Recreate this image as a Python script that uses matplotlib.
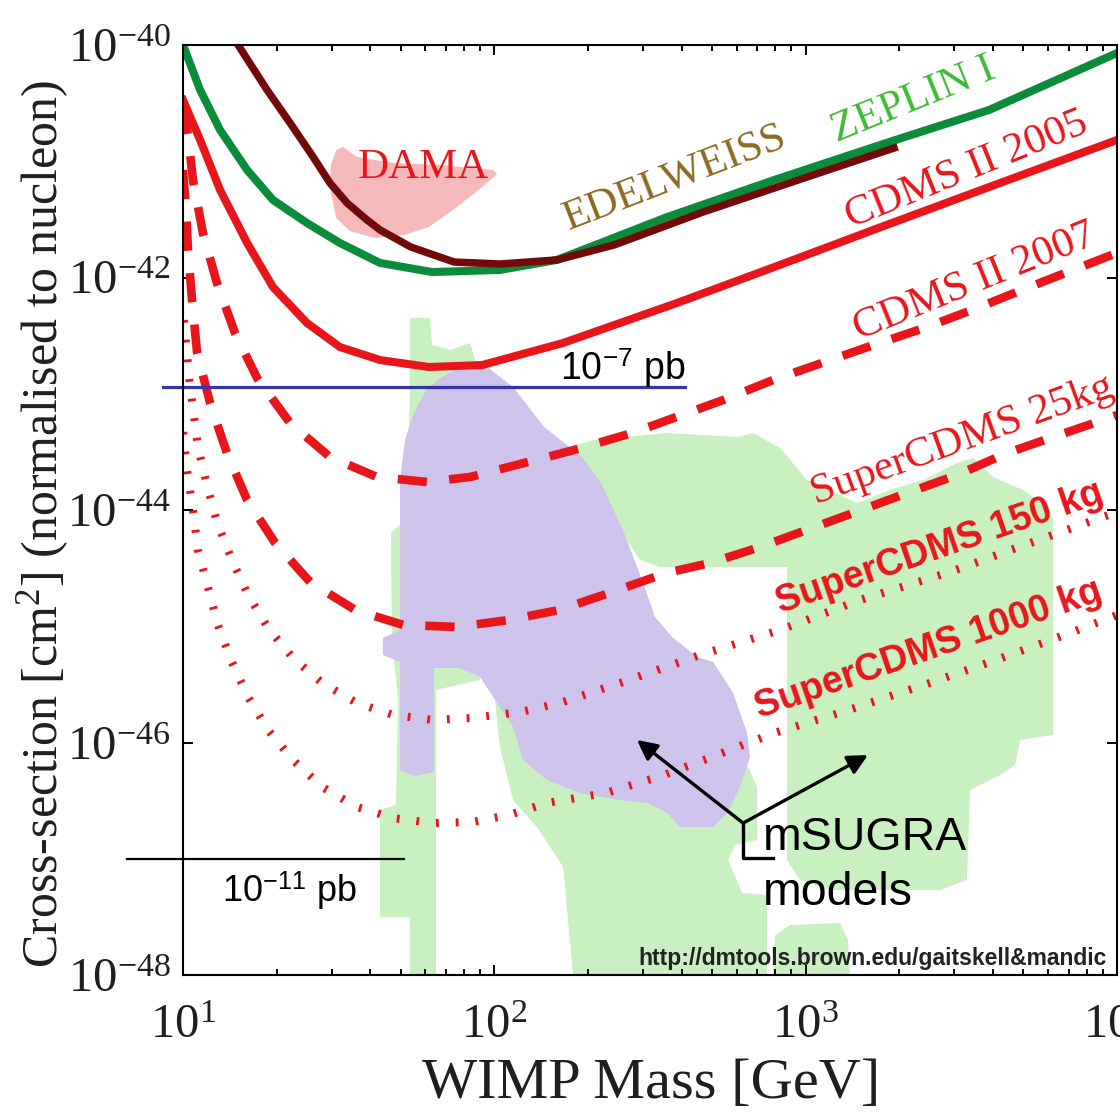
import numpy as np
import matplotlib
matplotlib.use('Agg')
import matplotlib.pyplot as plt
from matplotlib.ticker import FixedLocator, FixedFormatter, LogLocator, NullFormatter, NullLocator

plt.rcParams['font.family'] = ['Liberation Serif', 'DejaVu Serif']
plt.rcParams['mathtext.fontset'] = 'custom'
plt.rcParams['mathtext.rm'] = 'Liberation Serif'
plt.rcParams['mathtext.it'] = 'Liberation Serif:italic'
plt.rcParams['mathtext.bf'] = 'Liberation Serif:bold'
plt.rcParams['mathtext.sf'] = 'Liberation Sans'

# ---------------- data: log10(WIMP mass / GeV), log10(cross-section / cm^2) ----------------
zeplin_logm = [1.000, 1.055, 1.119, 1.206, 1.289, 1.398, 1.504, 1.633, 1.800, 2.018, 2.201, 2.555, 2.899, 3.278, 3.589, 4.000]
zeplin_logs = [-40.000, -40.387, -40.731, -41.075, -41.333, -41.531, -41.703, -41.875, -41.953, -41.935, -41.849, -41.480, -41.161, -40.826, -40.559, -40.069]

edel_logm = [1.177, 1.270, 1.344, 1.418, 1.472, 1.527, 1.591, 1.633, 1.732, 1.871, 2.018, 2.201, 2.385, 2.670, 3.014, 3.284]
edel_logs = [-40.000, -40.387, -40.671, -40.963, -41.187, -41.359, -41.505, -41.591, -41.738, -41.867, -41.884, -41.849, -41.720, -41.437, -41.127, -40.886]

cdms05_logm = [1.000, 1.055, 1.119, 1.206, 1.289, 1.398, 1.504, 1.633, 1.790, 1.961, 2.221, 2.587, 2.899, 3.242, 3.589, 4.000]
cdms05_logs = [-40.473, -40.817, -41.247, -41.703, -42.082, -42.391, -42.598, -42.710, -42.770, -42.753, -42.563, -42.219, -41.910, -41.566, -41.222, -40.817]

cdms07_logm = [1.000, 1.016, 1.032, 1.064, 1.109, 1.167, 1.238, 1.344, 1.472, 1.623, 1.784, 1.922, 2.095, 2.256, 2.442, 2.735, 2.895, 3.197, 3.390, 3.551, 3.711, 3.859, 4.000]
cdms07_logs = [-40.516, -40.774, -41.161, -41.617, -42.047, -42.477, -42.865, -43.252, -43.544, -43.716, -43.759, -43.716, -43.596, -43.484, -43.338, -43.054, -42.882, -42.600, -42.426, -42.262, -42.090, -41.935, -41.789]

sc25_logm = [1.000, 1.010, 1.016, 1.029, 1.045, 1.087, 1.141, 1.206, 1.296, 1.408, 1.553, 1.707, 1.880, 2.047, 2.208, 2.369, 2.552, 2.693, 2.854, 3.152, 3.326, 3.486, 3.647, 3.795, 3.955, 4.000]
sc25_logs = [-41.075, -41.419, -41.763, -42.194, -42.641, -43.080, -43.510, -43.914, -44.284, -44.619, -44.860, -44.989, -45.006, -44.946, -44.860, -44.714, -44.542, -44.456, -44.318, -44.026, -43.854, -43.699, -43.510, -43.372, -43.226, -43.183]

sc150_logm = [1.003, 1.013, 1.022, 1.032, 1.048, 1.077, 1.109, 1.157, 1.209, 1.273, 1.353, 1.447, 1.559, 1.675, 1.803, 1.928, 2.083, 2.211, 2.404, 2.661, 2.918, 3.175, 3.464, 3.721, 4.000]
sc150_logs = [-42.366, -42.667, -42.925, -43.123, -43.458, -43.785, -44.103, -44.430, -44.731, -45.015, -45.273, -45.488, -45.660, -45.763, -45.806, -45.789, -45.738, -45.660, -45.488, -45.247, -45.032, -44.774, -44.533, -44.284, -44.017]

sc1000_logm = [1.000, 1.013, 1.032, 1.048, 1.080, 1.112, 1.157, 1.209, 1.273, 1.353, 1.447, 1.559, 1.675, 1.803, 1.928, 2.047, 2.169, 2.359, 2.545, 2.715, 2.899, 3.139, 3.380, 3.612, 3.849, 4.000]
sc1000_logs = [-43.329, -43.656, -44.000, -44.344, -44.662, -44.989, -45.308, -45.609, -45.892, -46.151, -46.383, -46.555, -46.650, -46.693, -46.684, -46.624, -46.520, -46.434, -46.280, -46.108, -45.918, -45.720, -45.505, -45.290, -45.058, -44.903]

dama_logm = [1.492, 1.514, 1.559, 1.675, 1.826, 1.996, 2.009, 1.961, 1.880, 1.790, 1.710, 1.617, 1.536, 1.492, 1.472, 1.475]
dama_logs = [-40.903, -40.877, -40.963, -41.015, -41.032, -41.075, -41.110, -41.222, -41.394, -41.566, -41.634, -41.660, -41.600, -41.488, -41.230, -41.032]

# mSUGRA model regions
lav_logm = [1.890, 1.973, 2.060, 2.160, 2.282, 2.343, 2.417, 2.478, 2.516, 2.571, 2.651, 2.703, 2.767, 2.812,
            2.821, 2.789, 2.748, 2.703, 2.597, 2.555, 2.491, 2.404, 2.275, 2.169, 2.092, 2.060, 2.018, 1.954,
            1.890, 1.806, 1.806, 1.745, 1.697, 1.697, 1.642, 1.642, 1.697, 1.697, 1.713, 1.739, 1.777, 1.826]
lav_logs = [-42.770, -42.761, -42.942, -43.286, -43.544, -43.768, -44.198, -44.628, -44.920, -45.092, -45.265,
            -45.308, -45.574, -45.918, -46.125, -46.383, -46.606, -46.727, -46.727, -46.606, -46.520, -46.495,
            -46.434, -46.323, -46.151, -45.867, -45.695, -45.437, -45.359, -45.359, -46.254, -46.288, -46.237,
            -45.308, -45.247, -45.101, -45.032, -43.742, -43.398, -43.183, -42.985, -42.865]

g1_logm = [1.729, 1.793, 1.800, 1.858, 1.922, 1.948, 1.954, 1.813, 1.813, 1.729, 1.729, 1.633, 1.633, 1.684, 1.691, 1.671, 1.668, 1.713, 1.729]
g1_logs = [-42.348, -42.348, -42.581, -42.624, -42.563, -42.796, -45.462, -45.548, -48.000, -48.000, -47.501, -47.501, -46.581, -46.538, -45.634, -45.118, -44.198, -44.086, -43.054]

g2_logm = [2.211, 2.317, 2.555, 2.783, 2.831, 2.918, 3.004, 3.165, 3.271, 3.377, 3.486, 3.538, 3.602, 3.698, 3.776,
           3.795, 3.795, 3.689, 3.673, 3.625, 3.528, 3.518, 3.432, 3.078, 2.982, 2.940, 2.940, 2.532, 2.468, 2.340]
g2_logs = [-43.484, -43.398, -43.338, -43.372, -43.338, -43.467, -43.742, -43.940, -43.828, -43.742, -43.596, -43.553,
           -43.716, -43.828, -43.974, -44.086, -45.935, -45.978, -46.194, -46.280, -46.409, -47.183, -47.269, -47.269,
           -47.183, -47.011, -44.490, -44.490, -44.430, -43.914]

g3_logm = [2.002, 2.018, 2.060, 2.137, 2.221, 2.253, 2.876, 2.876, 2.796, 2.751, 2.773, 2.844, 2.844, 2.805, 2.661, 2.340]
g3_logs = [-45.634, -46.039, -46.495, -46.727, -47.071, -48.000, -48.000, -47.312, -47.295, -47.011, -46.882, -46.839, -46.383, -46.151, -45.634, -45.634]

g4_logm = [2.895, 2.902, 2.950, 3.111, 3.136, 3.143]
g4_logs = [-48.000, -47.656, -47.570, -47.553, -47.699, -48.000]

# reference levels (10^-7 pb and 10^-11 pb)
pb7_logm = [0.936, 2.613]
pb7_logs = [-42.94, -42.94]
pb11_logm = [0.820, 1.710]
pb11_logs = [-47.0, -47.0]

# arrow bracket for "mSUGRA models"
arrow_base = (2.799, -46.693)
arrow_tips = [(2.458, -45.978), (3.200, -46.108)]
bracket_logm = [2.799, 2.799, 2.895]
bracket_logs = [-46.693, -46.994, -46.994]

yticks_exp = [-48, -46, -44, -42, -40]
xticks_exp = [1, 2, 3, 4]

# ---------------- style ----------------
RED = '#e8161b'
GREEN_LINE = '#0b8c3b'
EDEL_LINE = '#730a0a'
LAVENDER = '#cdc3eb'
LGREEN = '#c8f0c0'
PINK = '#f6b9b9'
BLUE = '#3535a5'
INK = '#1f1f1f'


def pw(lm, ls):
    return 10 ** np.asarray(lm, dtype=float), 10 ** np.asarray(ls, dtype=float)


fig = plt.figure(figsize=(11.2, 11.14), dpi=100)
ax = fig.add_axes([183 / 1120, 1 - 975 / 1114, 934 / 1120, 930 / 1114])
ax.set_xscale('log')
ax.set_yscale('log')
ax.set_xlim(10, 1e4)
ax.set_ylim(1e-48, 1e-40)

# regions
for lm, ls in [(g1_logm, g1_logs), (g2_logm, g2_logs), (g3_logm, g3_logs), (g4_logm, g4_logs)]:
    ax.fill(*pw(lm, ls), color=LGREEN, lw=0, zorder=1)
ax.fill(*pw(lav_logm, lav_logs), color=LAVENDER, lw=0, zorder=2)
ax.fill(*pw(dama_logm, dama_logs), color=PINK, lw=0, zorder=2, joinstyle='round')

# limit curves
ax.plot(*pw(sc1000_logm, sc1000_logs), color=RED, lw=5.8, ls=(0, (0.35, 2.1)), zorder=4)
ax.plot(*pw(sc150_logm, sc150_logs), color=RED, lw=5.8, ls=(0, (0.35, 2.1)), zorder=4)
ax.plot(*pw(sc25_logm, sc25_logs), color=RED, lw=6.2, ls=(0, (3.4, 2.6)), zorder=4)
ax.plot(*pw(cdms07_logm, cdms07_logs), color=RED, lw=6.2, ls=(0, (3.4, 2.6)), zorder=4)
ax.plot(*pw(cdms05_logm, cdms05_logs), color=RED, lw=5.8, zorder=5, solid_joinstyle='round')
ax.plot(*pw(zeplin_logm, zeplin_logs), color=GREEN_LINE, lw=5.8, zorder=5, solid_joinstyle='round')
ax.plot(*pw(edel_logm, edel_logs), color=EDEL_LINE, lw=5.4, zorder=6, solid_joinstyle='round')

# reference lines
ax.plot(*pw(pb7_logm, pb7_logs), color=BLUE, lw=2.3, zorder=7, clip_on=False)
ax.plot(*pw(pb11_logm, pb11_logs), color='black', lw=1.6, zorder=7, clip_on=False)

# text labels
ax.text(10 ** 1.771, 10 ** -41.058, 'DAMA', color=RED, fontsize=31, ha='center', va='center', zorder=8)
ax.text(10 ** 2.580, 10 ** -41.144, 'EDELWEISS', color='#8b6a20', fontsize=31, rotation=21,
        ha='center', va='center', rotation_mode='anchor', zorder=8)
ax.text(10 ** 3.345, 10 ** -40.473, 'ZEPLIN I', color='#3dbb33', fontsize=31, rotation=22,
        ha='center', va='center', rotation_mode='anchor', zorder=8)
ax.text(10 ** 3.518, 10 ** -41.075, 'CDMS II 2005', color=RED, fontsize=31, rotation=22,
        ha='center', va='center', rotation_mode='anchor', zorder=8)
ax.text(10 ** 3.544, 10 ** -42.039, 'CDMS II 2007', color=RED, fontsize=31, rotation=22,
        ha='center', va='center', rotation_mode='anchor', zorder=8)
ax.text(10 ** 3.502, 10 ** -43.398, 'SuperCDMS 25kg', color=RED, fontsize=31, rotation=20,
        ha='center', va='center', rotation_mode='anchor', zorder=8)
ax.text(10 ** 3.429, 10 ** -44.327, 'SuperCDMS 150 kg', color=RED, fontsize=27, rotation=19,
        family='Liberation Sans', fontweight='bold', ha='center', va='center', rotation_mode='anchor', zorder=8)
ax.text(10 ** 3.396, 10 ** -45.204, 'SuperCDMS 1000 kg', color=RED, fontsize=27, rotation=19,
        family='Liberation Sans', fontweight='bold', ha='center', va='center', rotation_mode='anchor', zorder=8)

ax.text(10 ** 2.613, 10 ** -42.882, r'10$^{\mathsf{-7}}$ pb', family='Liberation Sans', fontsize=27,
        ha='right', va='baseline', color='black', zorder=8)
ax.text(10 ** 1.125, 10 ** -47.372, r'10$^{\mathsf{-11}}$ pb', family='Liberation Sans', fontsize=26,
        ha='left', va='baseline', color='black', zorder=8)

# mSUGRA annotation
for tip in arrow_tips:
    ax.annotate('', xy=(10 ** tip[0], 10 ** tip[1]), xytext=(10 ** arrow_base[0], 10 ** arrow_base[1]),
                arrowprops=dict(arrowstyle='-|>', color='black', lw=2.4, mutation_scale=30,
                                shrinkA=0, shrinkB=0), zorder=9)
ax.plot(*pw(bracket_logm, bracket_logs), color='black', lw=2.4, zorder=9)
ax.text(10 ** 2.863, 10 ** -46.925, 'mSUGRA', family='Liberation Sans', fontsize=33.5,
        ha='left', va='baseline', zorder=9)
ax.text(10 ** 2.863, 10 ** -47.398, 'models', family='Liberation Sans', fontsize=33.5,
        ha='left', va='baseline', zorder=9)

ax.text(0.989, 0.011, 'http://dmtools.brown.edu/gaitskell&mandic', transform=ax.transAxes,
        family='Liberation Sans', fontweight='bold', fontsize=16.5, color='#222222',
        ha='right', va='baseline', zorder=9)

# axes / ticks
ax.yaxis.set_major_locator(FixedLocator([10.0 ** e for e in yticks_exp]))
ax.yaxis.set_major_formatter(FixedFormatter([r'$10^{%d}$' % e for e in yticks_exp]))
ax.yaxis.set_minor_locator(NullLocator())
ax.xaxis.set_major_locator(FixedLocator([10.0 ** e for e in xticks_exp]))
ax.xaxis.set_major_formatter(FixedFormatter([r'$10^{%d}$' % e for e in xticks_exp]))
ax.xaxis.set_minor_locator(LogLocator(base=10, subs=np.arange(2, 10)))
ax.xaxis.set_minor_formatter(NullFormatter())

ax.tick_params(which='both', direction='in', top=True, right=True, width=1.4, colors='black')
ax.tick_params(which='major', length=7, labelsize=35, labelcolor=INK)
ax.tick_params(which='minor', length=4)
ax.tick_params(axis='y', which='major', pad=9)
ax.tick_params(axis='x', which='major', pad=21)
for sp in ax.spines.values():
    sp.set_linewidth(1.5)
    sp.set_zorder(10)

fig.text(43 / 1120, 1 - 524 / 1114, r'Cross-section [cm$^2$] (normalised to nucleon)', rotation=90,
         fontsize=36, ha='center', va='center', color=INK)
fig.text(651 / 1120, 1 - 1084 / 1114, 'WIMP Mass [GeV]', fontsize=42, ha='center', va='center', color=INK)

fig.savefig('out.png', dpi=100, facecolor='white')
